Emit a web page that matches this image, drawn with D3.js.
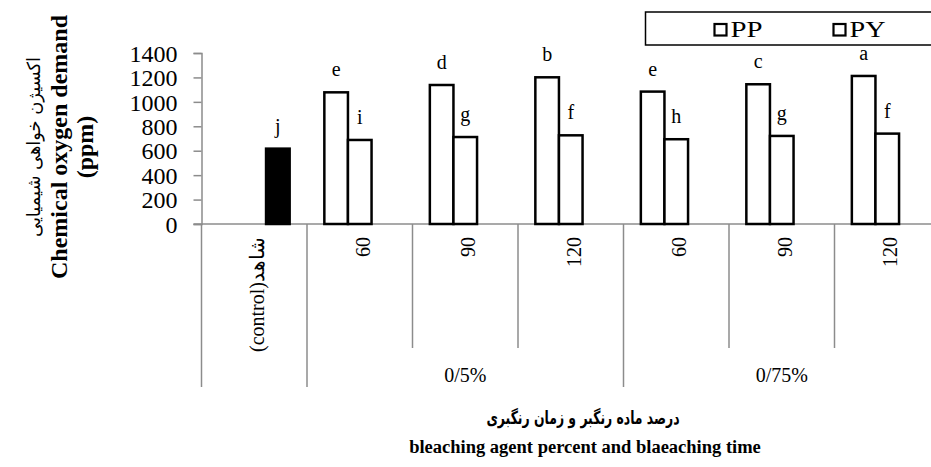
<!DOCTYPE html>
<html>
<head>
<meta charset="utf-8">
<script src="https://cdn.jsdelivr.net/npm/d3@7"></script>
<style>
  html, body { margin: 0; padding: 0; background: #fff; }
  svg { display: block; }
</style>
</head>
<body>
<svg id="chart" width="931" height="467"></svg>
<script>
// ---- data ----
const categories = ["(control)شاهد", "60", "90", "120", "60", "90", "120"];
const groups = ["0/5%", "0/75%"];
const groupSpans = [[1, 3], [4, 6]];
const seriesNames = ["PP", "PY", "control"];
const ppValues = [null, 1078, 1138, 1201, 1084, 1144, 1212];
const pyValues = [null, 688, 712, 726, 694, 721, 740];
const controlValues = [617, null, null, null, null, null, null];
const ppLetters = [null, "e", "d", "b", "e", "c", "a"];
const pyLetters = [null, "i", "g", "f", "h", "g", "f"];
const controlLetters = ["j", null, null, null, null, null, null];
const yTicks = [0, 200, 400, 600, 800, 1000, 1200, 1400];
const legendItems = ["PP", "PY"];
const yTitleFa = "اکسیژن خواهی شیمیایی";
const yTitleEn = "Chemical oxygen demand";
const yTitleUnit = "(ppm)";
const xTitleFa = "درصد ماده رنگبر و زمان رنگبری";
const xTitleEn = "bleaching agent percent and blaeaching time";

// ---- build rows ----
const rows = [];
categories.forEach((c, i) => {
  if (ppValues[i] != null) rows.push({ i, s: "PP", v: ppValues[i], lab: ppLetters[i] });
  if (pyValues[i] != null) rows.push({ i, s: "PY", v: pyValues[i], lab: pyLetters[i] });
  if (controlValues[i] != null) rows.push({ i, s: "control", v: controlValues[i], lab: controlLetters[i] });
});

const svg = d3.select("#chart");
const serif = "Liberation Serif, Times New Roman, serif";
const axisGrey = "#8c8c8c";

const x0 = 201.5, xEnd = 940;
const y = d3.scaleLinear().domain([0, 1400]).range([224, 53]);
const x = d3.scaleBand().domain(d3.range(categories.length)).range([x0, xEnd]).paddingInner(0).paddingOuter(0);
const xs = d3.scaleBand().domain(seriesNames).range([0, x.bandwidth()]).paddingInner(0).paddingOuter(0.735);

// y axis
const yAxis = d3.axisLeft(y).tickValues(yTicks).tickSize(8).tickPadding(16).tickFormat(d3.format("d"));
const gy = svg.append("g").attr("transform", `translate(${x0},0)`).call(yAxis)
  .attr("font-family", serif).attr("font-size", 24);
gy.select(".domain").attr("stroke", axisGrey).attr("stroke-width", 1.5);
gy.selectAll(".tick line").attr("stroke", axisGrey).attr("stroke-width", 1.5);
gy.selectAll(".tick text").attr("fill", "#000").attr("dy", "0.34em");

// x baseline
svg.append("line").attr("x1", x0 - 8).attr("x2", xEnd).attr("y1", y(0)).attr("y2", y(0))
  .attr("stroke", axisGrey).attr("stroke-width", 1.5);

// category separators
const groupStarts = new Set([0, 1, 4]);
d3.range(categories.length + 1).forEach(k => {
  const xx = k < categories.length ? x(k) : xEnd;
  const long = groupStarts.has(k) || k === categories.length;
  svg.append("line").attr("x1", xx).attr("x2", xx).attr("y1", y(0)).attr("y2", long ? 387 : 348)
    .attr("stroke", axisGrey).attr("stroke-width", 1.5);
});

// category labels
svg.append("g").attr("font-family", serif).attr("font-size", 20)
  .selectAll("text").data(categories).join("text")
  .attr("transform", (d, i) => `translate(${x(i) + x.bandwidth() / 2 + 3},237) rotate(-90)`)
  .attr("text-anchor", "end").attr("dy", "0.35em").text(d => d);

// group labels
svg.append("g").attr("font-family", serif).attr("font-size", 20)
  .selectAll("text").data(groups).join("text")
  .attr("x", (d, gi) => (x(groupSpans[gi][0]) + (groupSpans[gi][1] + 1 < categories.length ? x(groupSpans[gi][1] + 1) : xEnd)) / 2)
  .attr("y", 382).attr("text-anchor", "middle").text(d => d);

// bars
svg.append("g").selectAll("rect").data(rows).join("rect")
  .attr("x", d => x(d.i) + xs(d.s))
  .attr("y", d => y(d.v))
  .attr("width", xs.bandwidth())
  .attr("height", d => y(0) - y(d.v))
  .attr("fill", d => d.s === "control" ? "#000" : "#fff")
  .attr("stroke", "#000").attr("stroke-width", 2.5);

// letter labels
svg.append("g").attr("font-family", serif).attr("font-size", 20)
  .selectAll("text").data(rows.filter(d => d.lab)).join("text")
  .attr("x", d => x(d.i) + xs(d.s) + xs.bandwidth() / 2)
  .attr("y", d => y(d.v) - 16)
  .attr("text-anchor", "middle").text(d => d.lab);

// legend
svg.append("rect").attr("x", 645.5).attr("y", 12).attr("width", 300).attr("height", 33)
  .attr("fill", "#fff").attr("stroke", "#000").attr("stroke-width", 1.5);
const legX = [714.5, 833.5];
const lg = svg.append("g").attr("font-family", serif).attr("font-size", 24)
  .selectAll("g").data(legendItems).join("g")
  .attr("transform", (d, i) => `translate(${legX[i]},0)`);
lg.append("rect").attr("x", 0).attr("y", 24).attr("width", 12).attr("height", 11.5)
  .attr("fill", "#fff").attr("stroke", "#000").attr("stroke-width", 2.2);
lg.append("text").attr("x", 16).attr("y", 37)
  .attr("textLength", (d, i) => i === 0 ? 32 : 36).attr("lengthAdjust", "spacingAndGlyphs").text(d => d);

// y axis titles
const yc = 147;
svg.append("text").attr("transform", `translate(40,${yc}) rotate(-90)`).attr("text-anchor", "middle")
  .attr("font-family", "DejaVu Sans, sans-serif").attr("font-size", 18)
  .attr("textLength", 180).attr("lengthAdjust", "spacingAndGlyphs").text(yTitleFa);
svg.append("text").attr("transform", `translate(67,${yc}) rotate(-90)`).attr("text-anchor", "middle")
  .attr("font-family", serif).attr("font-size", 24).attr("font-weight", "bold").text(yTitleEn);
svg.append("text").attr("transform", `translate(93,${yc}) rotate(-90)`).attr("text-anchor", "middle")
  .attr("font-family", serif).attr("font-size", 24).attr("font-weight", "bold").text(yTitleUnit);

// x axis titles
svg.append("text").attr("x", 583).attr("y", 424).attr("text-anchor", "middle")
  .attr("font-family", "DejaVu Sans, sans-serif").attr("font-size", 18).attr("font-weight", "bold")
  .attr("textLength", 193).attr("lengthAdjust", "spacingAndGlyphs").text(xTitleFa);
svg.append("text").attr("x", 585).attr("y", 453).attr("text-anchor", "middle")
  .attr("font-family", serif).attr("font-size", 18.5).attr("font-weight", "bold").text(xTitleEn);
</script>
</body>
</html>
